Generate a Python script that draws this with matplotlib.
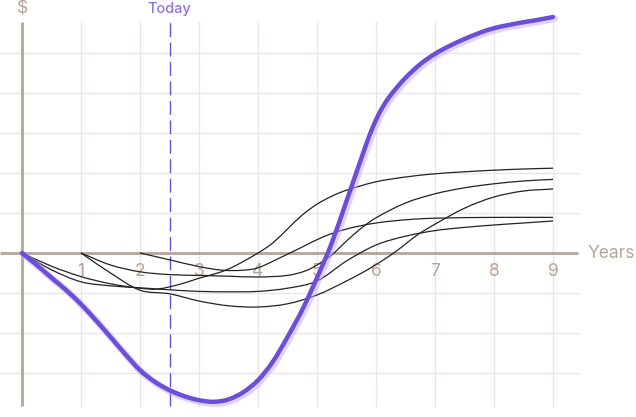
import matplotlib
matplotlib.use("Agg")
import matplotlib.pyplot as plt
import matplotlib.patheffects as pe
from matplotlib.path import Path
from matplotlib.patches import PathPatch

# ---- data (years, value in grid units) ----
purple_x = [0, 0.25, 0.5, 0.75, 1.0, 1.25, 1.5, 1.75, 2.0, 2.25, 2.5, 2.75, 3.0, 3.25,
            3.5, 3.75, 4.0, 4.25, 4.5, 4.75, 5.0, 5.25, 5.5, 5.75, 5.9, 6.05, 6.2, 6.35,
            6.5, 6.75, 7.0, 7.25, 7.5, 7.75, 8.0, 8.25, 8.5, 8.75, 9.0]
purple_y = [0, -0.3, -0.62, -0.93, -1.28, -1.68, -2.1, -2.53, -2.93, -3.22, -3.43, -3.58,
            -3.68, -3.72, -3.66, -3.48, -3.18, -2.72, -2.1, -1.42, -0.62, 0.25, 1.3, 2.36,
            2.98, 3.48, 3.85, 4.13, 4.38, 4.72, 4.98, 5.18, 5.35, 5.5, 5.62, 5.7, 5.77,
            5.83, 5.9]

a_x = [0, 0.5, 1.0, 1.5, 2.0, 2.3, 2.68, 3.0, 3.36, 3.6, 4.0, 4.25, 4.5, 4.75, 5.0, 5.25,
       5.5, 6.0, 6.5, 7.0, 7.5, 8.0, 8.5, 9.0]
a_y = [0, -0.33, -0.59, -0.77, -0.88, -0.9, -0.78, -0.63, -0.48, -0.33, 0, 0.25, 0.6,
       0.95, 1.22, 1.42, 1.57, 1.78, 1.9, 1.98, 2.03, 2.07, 2.1, 2.12]

b_x = [1.0, 1.5, 2.0, 2.5, 3.0, 3.5, 4.0, 4.5, 4.8, 5.0, 5.25, 5.5, 5.75, 6.0, 6.5, 7.0,
       7.5, 8.0, 8.5, 9.0]
b_y = [0, -0.3, -0.47, -0.54, -0.56, -0.58, -0.6, -0.56, -0.45, -0.3, -0.05, 0.3, 0.62,
       0.88, 1.25, 1.48, 1.63, 1.73, 1.8, 1.84]

c_x = [1.0, 1.5, 2.0, 2.5, 3.0, 3.5, 4.0, 4.5, 5.0, 5.5, 5.9, 6.3, 6.7, 7.0, 7.5, 8.0,
       8.5, 9.0]
c_y = [0, -0.5, -0.93, -1.02, -1.2, -1.32, -1.35, -1.27, -1.05, -0.7, -0.38, 0, 0.45,
       0.72, 1.12, 1.4, 1.55, 1.6]

d_x = [2.0, 2.5, 3.0, 3.4, 3.75, 4.0, 4.4, 4.75, 5.1, 5.5, 6.0, 6.5, 7.0, 8.0, 9.0]
d_y = [0, -0.17, -0.34, -0.43, -0.43, -0.37, -0.1, 0.15, 0.4, 0.6, 0.75, 0.83, 0.87,
       0.89, 0.89]

e_x = [0, 0.5, 1.0, 1.5, 2.0, 2.5, 3.0, 3.5, 4.0, 4.5, 5.0, 5.5, 6.0, 6.5, 7.0, 7.5, 8.0,
       8.5, 9.0]
e_y = [0, -0.42, -0.72, -0.82, -0.87, -0.92, -0.96, -0.97, -0.96, -0.88, -0.7, -0.2,
       0.2, 0.42, 0.56, 0.64, 0.7, 0.75, 0.8]

year_ticks = [1, 2, 3, 4, 5, 6, 7, 8, 9]
grid_levels = [-3, -2, -1, 1, 2, 3, 4, 5]
today = 2.5

# ---- style ----
TAN = "#b7a597"
GRID = "#ebe5e5"
PURPLE = "#6a4fd8"
LAV = "#c9a6ff"

plt.rcParams['font.family'] = ['Inter', 'DejaVu Sans']


def smooth_path(xs, ys):
    """Cubic Bezier path through the given points (Catmull-Rom style tangents)."""
    n = len(xs)
    m = []
    for i in range(n):
        if i == 0:
            m.append((ys[1] - ys[0]) / (xs[1] - xs[0]))
        elif i == n - 1:
            m.append((ys[-1] - ys[-2]) / (xs[-1] - xs[-2]))
        else:
            m.append((ys[i + 1] - ys[i - 1]) / (xs[i + 1] - xs[i - 1]))
    verts = [(xs[0], ys[0])]
    codes = [Path.MOVETO]
    for i in range(n - 1):
        h = xs[i + 1] - xs[i]
        verts += [(xs[i] + h / 3, ys[i] + m[i] * h / 3),
                  (xs[i + 1] - h / 3, ys[i + 1] - m[i + 1] * h / 3),
                  (xs[i + 1], ys[i + 1])]
        codes += [Path.CURVE4] * 3
    return Path(verts, codes)


fig = plt.figure(figsize=(6.36, 4.17), dpi=100)
ax = fig.add_axes([0, 0, 1, 1])
ax.set_xlim(-0.373, 10.407)
ax.set_ylim(-4.1, 6.325)
ax.axis('off')

x_left, x_right = -0.373, 9.42
y_top, y_bot = 5.78, -3.82

for g in grid_levels:
    ax.plot([x_left, x_right], [g, g], color=GRID, lw=1.0, zorder=1)
for t in year_ticks:
    ax.plot([t, t], [y_bot, y_top], color=GRID, lw=1.0, zorder=1)

# axes
ax.plot([x_left, x_right], [0, 0], color=TAN, lw=2.0, zorder=2, solid_capstyle='butt')
ax.plot([0, 0], [y_bot, y_top], color=TAN, lw=2.0, zorder=2, solid_capstyle='butt')

for t in year_ticks:
    ax.text(t, -0.45, str(t), color=TAN, fontsize=12.5, ha='center', va='center', zorder=3)
ax.text(9.58, 0.0, "Years", color=TAN, fontsize=12.5, ha='left', va='center')
ax.text(0.0, 6.11, "$", color=TAN, fontsize=12.5, ha='center', va='center')

# today line
ax.plot([today, today], [y_bot, y_top], color=PURPLE, lw=1.0, dashes=(10, 4), zorder=3)
ax.text(today, 6.09, "Today", color="#8f73e0", fontsize=10.5, fontweight='medium',
        ha='center', va='center')

for xs, ys in [(a_x, a_y), (b_x, b_y), (c_x, c_y), (d_x, d_y), (e_x, e_y)]:
    ax.add_patch(PathPatch(smooth_path(xs, ys), facecolor='none', edgecolor="#222222",
                           lw=0.9, zorder=4))

purple = PathPatch(smooth_path(purple_x, purple_y), facecolor='none', edgecolor=PURPLE,
                   lw=3.2, zorder=5, capstyle='round', joinstyle='round')
purple.set_path_effects([pe.SimpleLineShadow(offset=(1.2, -1.2), shadow_color=LAV,
                                             alpha=0.5, linewidth=5), pe.Normal()])
ax.add_patch(purple)

fig.savefig("out.png", dpi=100)
